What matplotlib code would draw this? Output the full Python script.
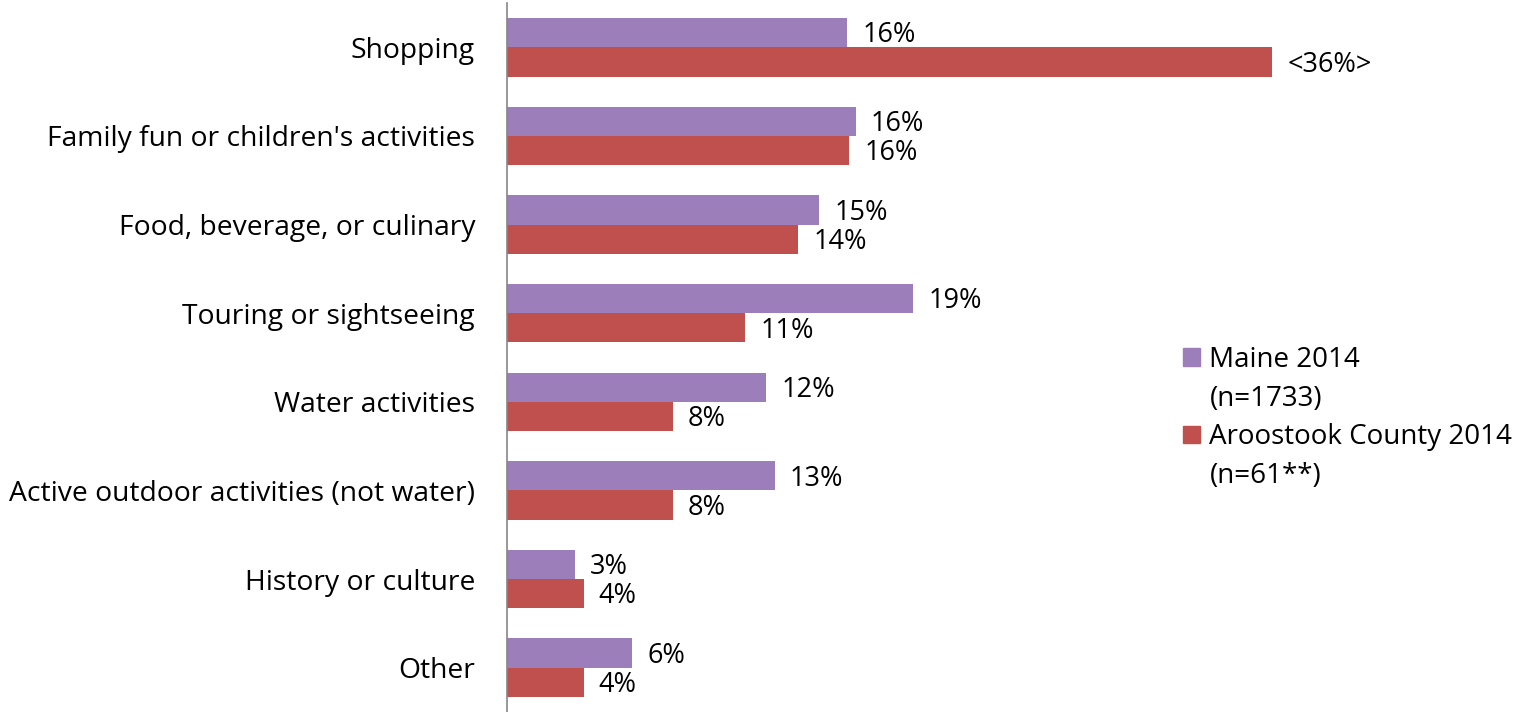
import matplotlib.pyplot as plt
from matplotlib.patches import Patch
import numpy as np

plt.rcParams['font.family'] = ['Open Sans', 'DejaVu Sans']

categories = ["Shopping", "Family fun or children's activities", "Food, beverage, or culinary",
              "Touring or sightseeing", "Water activities", "Active outdoor activities (not water)",
              "History or culture", "Other"]
maine = [16.0, 16.4, 14.7, 19.1, 12.2, 12.6, 3.2, 5.9]
aroostook = [36.0, 16.1, 13.7, 11.2, 7.8, 7.8, 3.6, 3.6]
# the Shopping figure for Aroostook is flagged in the survey report
aroostook_fmt = ["<{:.0f}%>", "{:.0f}%", "{:.0f}%", "{:.0f}%", "{:.0f}%", "{:.0f}%", "{:.0f}%", "{:.0f}%"]
series_names = ["Maine 2014", "Aroostook County 2014"]
series_notes = ["(n=1733)", "(n=61**)"]

purple = "#9B7EBA"
red = "#C0504D"

W, H = 1518, 712
fig = plt.figure(figsize=(W / 100, H / 100), dpi=100)
ax = fig.add_axes([507 / W, 0, (1357 - 507) / W, 1 - 3 / H])

y = np.arange(len(categories))
h = 0.33
b1 = ax.barh(y - h / 2, maine, height=h, color=purple)
b2 = ax.barh(y + h / 2, aroostook, height=h, color=red)

ax.set_xlim(0, 40)
ax.set_ylim(len(categories) - 0.5, -0.5)
ax.set_yticks(y)
ax.set_yticklabels(categories, fontsize=20.3)
ax.tick_params(axis='y', length=0, pad=23)
ax.set_xticks([])
for s in ["top", "right", "bottom"]:
    ax.spines[s].set_visible(False)
ax.spines["left"].set_color("#868686")
ax.spines["left"].set_linewidth(1.2)

for bar, v in zip(b1, maine):
    ax.annotate("{:.0f}%".format(v), (bar.get_width(), bar.get_y() + bar.get_height() / 2),
                xytext=(11, -2), textcoords="offset points", va="center", ha="left", fontsize=19.5)
for bar, v, f in zip(b2, aroostook, aroostook_fmt):
    ax.annotate(f.format(v), (bar.get_width(), bar.get_y() + bar.get_height() / 2),
                xytext=(11, -2), textcoords="offset points", va="center", ha="left", fontsize=19.5)

# legend: square only on the first line of each entry, sample size on the line below
blank = Patch(facecolor="none", edgecolor="none")
handles = [Patch(color=purple), blank, Patch(color=red), blank]
labels = [series_names[0], series_notes[0], series_names[1], series_notes[1]]
fig.legend(handles, labels, loc="upper left", bbox_to_anchor=(1183 / W, 1 - 346 / H),
           frameon=False, fontsize=20, handlelength=0.6, handleheight=0.6,
           handletextpad=0.35, labelspacing=0.38, borderpad=0, borderaxespad=0)

fig.savefig("out.png", dpi=100)
